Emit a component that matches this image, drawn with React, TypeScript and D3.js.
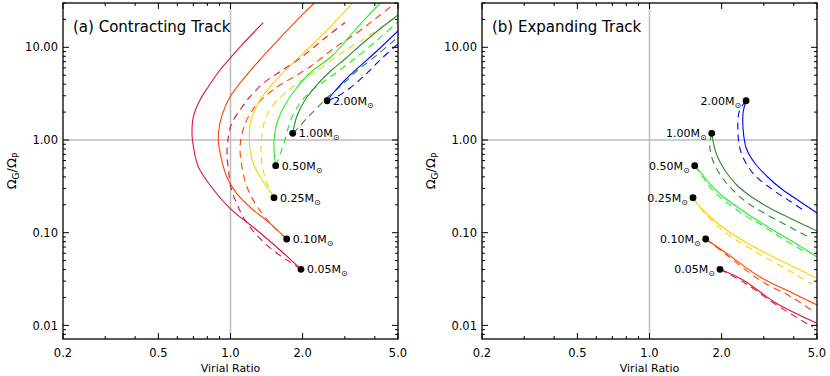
import { useEffect, useRef } from 'react';
import * as d3 from 'd3';

// masses and the point where every track begins (virial ratio, Omega_G/Omega_P)
const MASS_LABELS = ['0.05', '0.10', '0.25', '0.50', '1.00', '2.00'];
const TRACK_COLORS = ['#DC143C', '#FF4500', '#FFD000', '#22EE22', '#2E8B2E', '#0000FF'];
const START_X = [1.968, 1.716, 1.519, 1.544, 1.818, 2.53];
const START_Y = [0.0403, 0.0855, 0.2385, 0.528, 1.18, 2.65];

// (a) contracting track, solid
const c005s = [[1.609, 0.0651], [1.286, 0.107], [0.995, 0.1833], [0.821, 0.327], [0.734, 0.515], [0.70, 0.847], [0.691, 1.132], [0.70, 1.784], [0.746, 2.70], [0.808, 3.76], [0.904, 5.69], [0.995, 7.61], [1.131, 11.04], [1.370, 18.42]];
const c010s = [[1.461, 0.1263], [1.245, 0.1757], [1.061, 0.266], [0.964, 0.402], [0.919, 0.608], [0.891, 0.928], [0.891, 1.19], [0.922, 1.861], [0.995, 2.91], [1.168, 5.02], [1.370, 8.06], [1.609, 12.6], [1.895, 19.7], [2.23, 30.05], [2.363, 35.8]];
const c025s = [[1.416, 0.3135], [1.328, 0.402], [1.245, 0.5605], [1.206, 0.78], [1.198, 1.085], [1.206, 1.451], [1.245, 1.94], [1.353, 2.91], [1.563, 4.55], [1.841, 6.94], [2.189, 10.59], [2.627, 16.97], [3.253, 30.8], [3.437, 36.6]];
const c050s = [[1.519, 0.78], [1.526, 1.132], [1.578, 1.643], [1.688, 2.386], [1.858, 3.463], [2.146, 5.28], [2.677, 8.26], [3.308, 15.37], [4.205, 30.05], [4.457, 35.8]];
const c100s = [[1.889, 1.784], [2.046, 2.70], [2.325, 4.09], [2.645, 5.69], [3.005, 7.48], [3.572, 11.13], [4.205, 15.76], [5.0, 22.3]];
const c200s = [[2.730, 3.378], [3.005, 4.44], [3.47, 6.28], [4.126, 9.35], [5.0, 14.99]];

// (a) contracting track, dashed
const c005d = [[1.771, 0.0483], [1.509, 0.0643], [1.290, 0.0933], [1.149, 0.137], [1.061, 0.2076], [1.005, 0.3037], [0.981, 0.4747], [0.967, 0.689], [0.976, 1.0], [1.012, 1.514], [1.096, 2.107], [1.206, 2.93], [1.370, 4.09], [1.609, 5.46], [1.950, 7.61], [2.479, 12.6], [3.005, 18.5]];
const c010d = [[1.559, 0.107], [1.416, 0.1405], [1.278, 0.199], [1.172, 0.311], [1.117, 0.511], [1.096, 0.78], [1.111, 1.104], [1.168, 1.643], [1.265, 2.287], [1.416, 3.06], [1.609, 3.92], [1.806, 4.67], [2.168, 6.28], [2.677, 9.58], [3.362, 14.27], [4.009, 20.2], [4.765, 28.6], [5.097, 32.4]];
const c025d = [[1.434, 0.319], [1.367, 0.4747], [1.341, 0.742], [1.353, 1.132], [1.393, 1.643], [1.476, 2.214], [1.64, 2.984], [1.913, 4.12], [2.318, 5.69], [2.863, 8.47], [3.821, 13.57], [5.0, 21.76]];
const c050d = [[1.624, 0.742], [1.696, 1.051], [1.771, 1.564], [1.913, 2.327], [2.146, 3.294], [2.645, 4.90], [3.245, 7.29], [4.009, 11.4], [5.0, 18.75]];
const c100d = [[1.931, 1.381], [2.085, 1.727], [2.296, 2.214], [2.576, 2.984], [2.919, 3.92], [3.404, 5.69], [4.086, 8.26], [5.0, 12.91]];
const c200d = [[2.810, 2.984], [3.153, 3.64], [3.641, 5.02], [4.205, 7.29], [5.0, 10.85]];

// (b) expanding track, solid
const e005s = [[2.456, 0.0309], [3.385, 0.0173], [5.0, 0.01054]];
const e010s = [[2.094, 0.06], [2.883, 0.0335], [3.971, 0.0222], [5.0, 0.0166]];
const e025s = [[1.672, 0.1757], [2.094, 0.107], [2.883, 0.0651], [3.971, 0.043], [5.0, 0.0322]];
const e050s = [[1.667, 0.419], [1.818, 0.319], [2.06, 0.2367], [2.425, 0.1757], [2.883, 0.1305], [3.494, 0.0968], [4.235, 0.0719], [5.0, 0.0547]];
const e100s = [[1.845, 0.952], [1.908, 0.689], [2.06, 0.4747], [2.312, 0.327], [2.67, 0.2427], [3.174, 0.1847], [3.922, 0.1405], [5.0, 0.1043]];
const e200s = [[2.46, 2.005], [2.46, 1.282], [2.532, 0.82], [2.748, 0.565], [3.113, 0.399], [3.561, 0.296], [4.154, 0.2253], [5.0, 0.163]];

// (b) expanding track, dashed
const e005d = [[2.496, 0.0287], [3.39, 0.0166], [4.8, 0.0096]];
const e010d = [[2.1, 0.0575], [2.883, 0.0309], [3.966, 0.0198], [4.8, 0.0143]];
const e025d = [[1.699, 0.163], [2.06, 0.1018], [2.883, 0.0589], [3.846, 0.0386], [4.751, 0.028]];
const e050d = [[1.667, 0.399], [1.818, 0.296], [2.06, 0.2198], [2.496, 0.155], [3.025, 0.1152], [3.666, 0.0834], [4.486, 0.0619]];
const e100d = [[1.783, 0.883], [1.835, 0.608], [2.001, 0.399], [2.225, 0.289], [2.569, 0.209], [3.113, 0.155], [3.846, 0.1152], [4.529, 0.0921]];
const e200d = [[2.378, 2.107], [2.34, 1.181], [2.418, 0.719], [2.704, 0.4374], [3.276, 0.289], [3.846, 0.2198], [4.443, 0.1714]];

const X_MAJOR = [0.2, 0.5, 1, 2, 5];
const X_TICK_LABELS = ['0.2', '0.5', '1.0', '2.0', '5.0'];
const Y_MAJOR = [0.01, 0.1, 1, 10];
const Y_TICK_LABELS = ['0.01', '0.10', '1.00', '10.00'];

const PANELS = [
  { id: 'a', title: '(a) Contracting Track', left: 63, solid: [c005s, c010s, c025s, c050s, c100s, c200s], dashed: [c005d, c010d, c025d, c050d, c100d, c200d], labelRight: true },
  { id: 'b', title: '(b) Expanding Track', left: 482, solid: [e005s, e010s, e025s, e050s, e100s, e200s], dashed: [e005d, e010d, e025d, e050d, e100d, e200d], labelRight: false },
];

const TOP = 3;
const W = 335;
const H = 336;
const FONT = "'DejaVu Sans', sans-serif";

export default function App() {
  const svgRef = useRef<SVGSVGElement>(null);

  useEffect(() => {
    if (!svgRef.current) return;
    const svg = d3.select(svgRef.current);
    svg.selectAll('*').remove();

    const x = d3.scaleLog().domain([0.2, 5]).range([0, W]);
    const y = d3.scaleLog().domain([0.00713, 30.06]).range([H, 0]);
    const line = d3.line<number[]>()
      .x((d) => x(d[0]))
      .y((d) => y(d[1]))
      .curve(d3.curveCatmullRom.alpha(0.5));

    const xMinor = x.ticks().filter((t) => !X_MAJOR.some((m) => Math.abs(m - t) < 1e-9));
    const yMinor = y.ticks().filter((t) => !Y_MAJOR.some((m) => Math.abs(m - t) / m < 1e-6));

    PANELS.forEach((p) => {
      const g = svg.append('g').attr('transform', `translate(${p.left},${TOP})`);
      const clipId = `clip-${p.id}`;
      g.append('clipPath').attr('id', clipId)
        .append('rect').attr('width', W).attr('height', H);

      // grey guide lines at ratio = 1
      g.append('line')
        .attr('x1', x(1)).attr('x2', x(1)).attr('y1', 0).attr('y2', H)
        .attr('stroke', '#bcbcbc').attr('stroke-width', 1.5);
      g.append('line')
        .attr('x1', 0).attr('x2', W).attr('y1', y(1)).attr('y2', y(1))
        .attr('stroke', '#bcbcbc').attr('stroke-width', 1.5);

      // tracks
      const tracks = g.append('g').attr('clip-path', `url(#${clipId})`).attr('fill', 'none');
      MASS_LABELS.forEach((_, i) => {
        const start = [START_X[i], START_Y[i]];
        tracks.append('path')
          .attr('d', line([start, ...p.dashed[i]]))
          .attr('stroke', TRACK_COLORS[i]).attr('stroke-width', 1.1)
          .attr('stroke-dasharray', '7,5');
        tracks.append('path')
          .attr('d', line([start, ...p.solid[i]]))
          .attr('stroke', TRACK_COLORS[i]).attr('stroke-width', 1.1);
      });

      // frame
      g.append('rect').attr('width', W).attr('height', H)
        .attr('fill', 'none').attr('stroke', '#000').attr('stroke-width', 1.3);

      // ticks, all pointing inward
      const ticks = g.append('g').attr('stroke', '#000').attr('stroke-width', 1);
      const xt = [...X_MAJOR.map((v) => ({ v, len: 6 })), ...xMinor.map((v) => ({ v, len: 3 }))];
      xt.forEach(({ v, len }) => {
        ticks.append('line').attr('x1', x(v)).attr('x2', x(v)).attr('y1', H).attr('y2', H - len);
        ticks.append('line').attr('x1', x(v)).attr('x2', x(v)).attr('y1', 0).attr('y2', len);
      });
      const yt = [...Y_MAJOR.map((v) => ({ v, len: 6 })), ...yMinor.map((v) => ({ v, len: 3 }))];
      yt.forEach(({ v, len }) => {
        ticks.append('line').attr('x1', 0).attr('x2', len).attr('y1', y(v)).attr('y2', y(v));
        ticks.append('line').attr('x1', W).attr('x2', W - len).attr('y1', y(v)).attr('y2', y(v));
      });

      // tick labels
      X_MAJOR.forEach((v, i) => {
        g.append('text')
          .attr('x', x(v)).attr('y', H + 18)
          .attr('text-anchor', 'middle').attr('font-family', FONT).attr('font-size', '11.5px')
          .text(X_TICK_LABELS[i]);
      });
      Y_MAJOR.forEach((v, i) => {
        g.append('text')
          .attr('x', -5).attr('y', y(v)).attr('dy', '0.36em')
          .attr('text-anchor', 'end').attr('font-family', FONT).attr('font-size', '11.5px')
          .text(Y_TICK_LABELS[i]);
      });

      // axis titles
      g.append('text')
        .attr('x', W / 2).attr('y', H + 33)
        .attr('text-anchor', 'middle').attr('font-family', FONT).attr('font-size', '11px')
        .text('Virial Ratio');
      const yl = g.append('text')
        .attr('transform', `translate(-47,${H / 2}) rotate(-90)`)
        .attr('text-anchor', 'middle').attr('font-family', FONT).attr('font-size', '13px');
      yl.append('tspan').text('Ω');
      yl.append('tspan').attr('dy', 3).attr('font-size', '9px').text('G');
      yl.append('tspan').attr('dy', -3).text('/Ω');
      yl.append('tspan').attr('dy', 3).attr('font-size', '9px').text('P');

      // panel title
      g.append('text')
        .attr('x', 10).attr('y', 29)
        .attr('font-family', FONT).attr('font-size', '15px')
        .text(p.title);

      // starting points and mass labels
      MASS_LABELS.forEach((m, i) => {
        const cx = x(START_X[i]);
        const cy = y(START_Y[i]);
        g.append('circle').attr('cx', cx).attr('cy', cy).attr('r', 3.4).attr('fill', '#000');
        const t = g.append('text')
          .attr('x', p.labelRight ? cx + 6 : cx - 5).attr('y', cy + 4)
          .attr('text-anchor', p.labelRight ? 'start' : 'end')
          .attr('font-family', FONT).attr('font-size', '11px');
        t.append('tspan').text(`${m}M`);
        t.append('tspan').attr('dy', 3).attr('font-size', '8px').text('⊙');
      });
    });
  }, []);

  return (
    <div>
      <style>{'body{margin:0}'}</style>
      <svg ref={svgRef} width={830} height={376} style={{ display: 'block', background: '#fff' }} />
    </div>
  );
}
